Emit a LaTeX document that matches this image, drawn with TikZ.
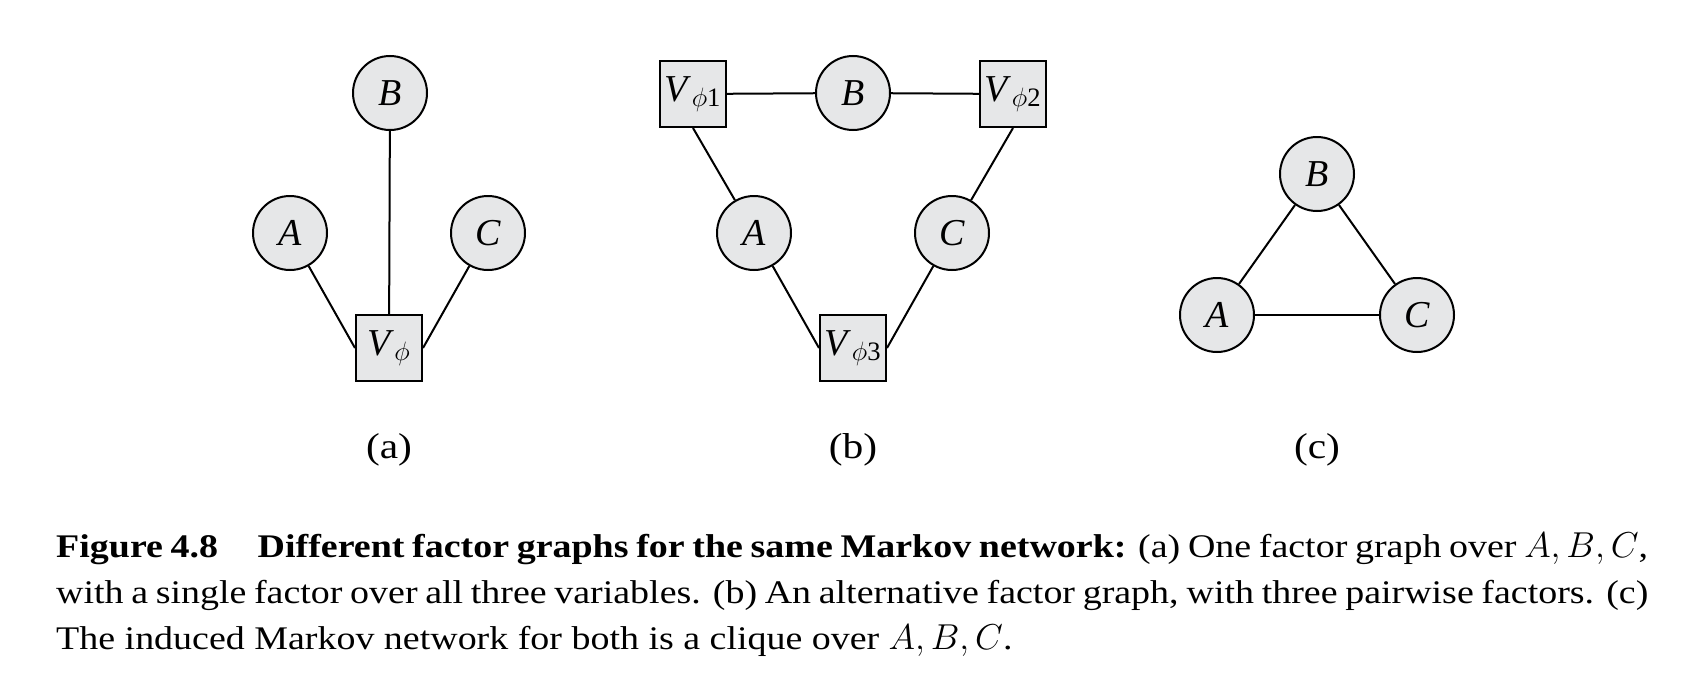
\documentclass[tikz,border=0pt]{standalone}
\usepackage{fix-cm}
\usepackage{fontspec}
\setmainfont{Liberation Serif}
\newfontfamily\capfont{Liberation Serif}[FakeStretch=1.15]
\newcommand{\capmath}[1]{{\fontsize{36}{46}\selectfont$#1$}}
\definecolor{nodegray}{RGB}{230,231,232}
\tikzset{
	varnode/.style={circle, draw, fill=nodegray, line width=2pt, minimum size=74pt, inner sep=0pt, font=\fontsize{38}{40}\selectfont},
	factornode/.style={rectangle, draw, fill=nodegray, line width=2pt, minimum size=66pt, inner sep=0pt, font=\fontsize{38}{40}\selectfont},
	link/.style={line width=2pt},
	panel/.style={font=\capfont\fontsize{36}{40}\selectfont}
}
\begin{document}
\begin{tikzpicture}[x=1pt, y=-1pt]
			%%%%% START %%%%%
			\useasboundingbox (0,0) rectangle (1698,696);
			
			% (a) one factor
			\node[varnode] (aB) at (390,93) {\textit{B}};
			\node[varnode] (aA) at (290,233) {\textit{A}};
			\node[varnode] (aC) at (488,233) {\textit{C}};
			\node[factornode] (aV) at (389,348) {\textit{V}\textsubscript{$\phi$}};
			\draw[link] (aA) -- (aV.west);
			\draw[link] (aB) -- (aV);
			\draw[link] (aC) -- (aV.east);
			\node[panel] (alab) at (389,450) {(a)};
			
			% (b) pairwise factors
			\node[factornode] (bV1) at (693,94) {\textit{V}\textsubscript{$\phi$1}};
			\node[varnode] (bB) at (853,93) {\textit{B}};
			\node[factornode] (bV2) at (1013,94) {\textit{V}\textsubscript{$\phi$2}};
			\node[varnode] (bA) at (754,233) {\textit{A}};
			\node[varnode] (bC) at (952,233) {\textit{C}};
			\node[factornode] (bV3) at (853,348) {\textit{V}\textsubscript{$\phi$3}};
			\draw[link] (bV1) -- (bB);
			\draw[link] (bB) -- (bV2);
			\draw[link] (bV1.south) -- (bA);
			\draw[link] (bV2.south) -- (bC);
			\draw[link] (bA) -- (bV3.west);
			\draw[link] (bC) -- (bV3.east);
			\node[panel] (blab) at (853,450) {(b)};
			
			% (c) markov network
			\node[varnode] (cB) at (1317,174) {\textit{B}};
			\node[varnode] (cA) at (1217,315) {\textit{A}};
			\node[varnode] (cC) at (1417,315) {\textit{C}};
			\draw[link] (cA) -- (cB);
			\draw[link] (cB) -- (cC);
			\draw[link] (cA) -- (cC);
			\node[panel] (clab) at (1317,450) {(c)};
			
			% caption
			\node[anchor=base west, text width=1592pt, align=justify, inner sep=0pt, font=\capfont\fontsize{33}{46}\selectfont] (caption) at (56,557) {\textbf{Figure 4.8}\hspace{1.2em}\textbf{Different factor graphs for the same Markov network:} (a) One factor graph over \capmath{A, B, C},\linebreak with a single factor over all three variables. (b) An alternative factor graph, with three pairwise factors. (c)\linebreak The induced Markov network for both is a clique over \capmath{A, B, C}.};
			
			%%%%% END %%%%%
\end{tikzpicture}
\end{document}
